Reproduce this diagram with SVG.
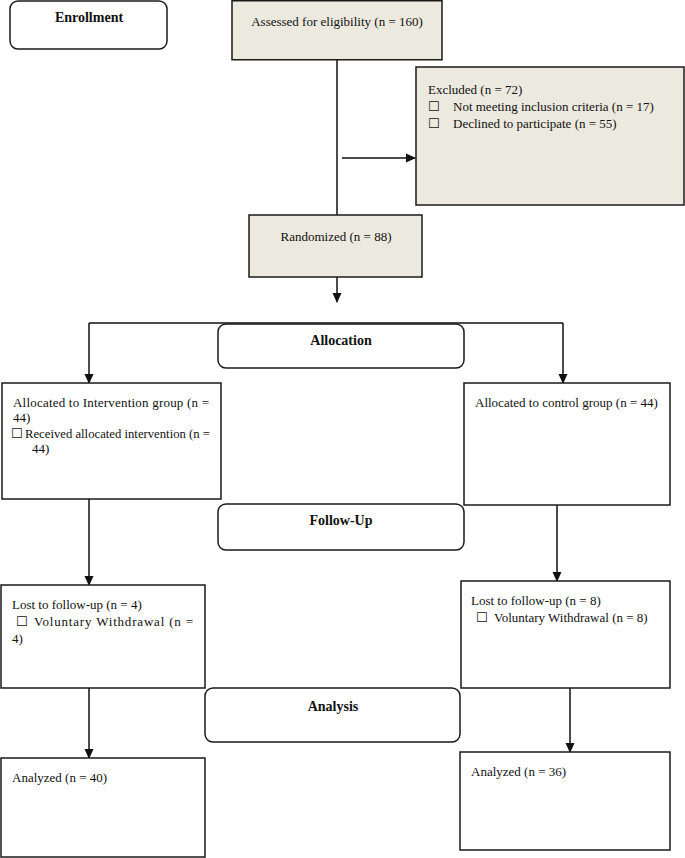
<svg xmlns="http://www.w3.org/2000/svg" width="685" height="858" viewBox="0 0 685 858">
<defs>
<marker id="ah" markerWidth="10" markerHeight="10" refX="9" refY="5" orient="auto" markerUnits="userSpaceOnUse">
<path d="M0,0.5 L10,5 L0,9.5 Z" fill="#111"/>
</marker>
<style>
.box{fill:#fff;stroke:#1a1a1a;stroke-width:1.5}
.shade{fill:#ece9df;stroke:#1a1a1a;stroke-width:1.5}
.rnd{fill:#fff;stroke:#1a1a1a;stroke-width:1.5}
.t{font-family:"Liberation Serif","Times New Roman",serif;font-size:13px;fill:#111}
.b{font-family:"Liberation Serif","Times New Roman",serif;font-size:14px;font-weight:bold;fill:#111}
.cb{font-family:"DejaVu Sans",sans-serif;font-size:13px}
.ln{stroke:#111;stroke-width:1.5;fill:none}
</style>
</defs>
<rect width="685" height="858" fill="#fff"/>
<g id="connectors">
<line class="ln" x1="337" y1="60" x2="337" y2="215"/>
<line class="ln" x1="342" y1="158" x2="415" y2="158" marker-end="url(#ah)"/>
<line class="ln" x1="337" y1="277" x2="337" y2="302" marker-end="url(#ah)"/>
<line class="ln" x1="89" y1="323" x2="563" y2="323"/>
<line class="ln" x1="89" y1="323" x2="89" y2="383" marker-end="url(#ah)"/>
<line class="ln" x1="563" y1="323" x2="563" y2="383" marker-end="url(#ah)"/>
<line class="ln" x1="89" y1="499" x2="89" y2="585" marker-end="url(#ah)"/>
<line class="ln" x1="557" y1="505" x2="557" y2="581" marker-end="url(#ah)"/>
<line class="ln" x1="89" y1="688" x2="89" y2="758" marker-end="url(#ah)"/>
<line class="ln" x1="570" y1="688" x2="570" y2="752" marker-end="url(#ah)"/>
</g>
<g id="enrollment">
<rect class="rnd" x="10" y="1" width="157" height="48" rx="8"/>
<text class="b" x="89" y="22" text-anchor="middle">Enrollment</text>
</g>
<g id="assessed">
<rect class="shade" x="232" y="0.75" width="210" height="59"/>
<text class="t" x="337" y="26" text-anchor="middle">Assessed for eligibility (n = 160)</text>
</g>
<g id="excluded">
<rect class="shade" x="416" y="67" width="268" height="138"/>
<text class="t" x="428" y="94">Excluded (n = 72)</text>
<text class="t" x="428" y="111"><tspan class="cb">☐</tspan><tspan x="453">Not meeting inclusion criteria (n = 17)</tspan></text>
<text class="t" x="428" y="128"><tspan class="cb">☐</tspan><tspan x="453">Declined to participate (n = 55)</tspan></text>
</g>
<g id="randomized">
<rect class="shade" x="249" y="215" width="173" height="62"/>
<text class="t" x="336" y="241" text-anchor="middle">Randomized (n = 88)</text>
</g>
<g id="allocation">
<rect class="rnd" x="218" y="324" width="246" height="44" rx="8"/>
<text class="b" x="341" y="345" text-anchor="middle">Allocation</text>
</g>
<g id="intervention">
<rect class="box" x="2" y="383" width="219" height="116"/>
<text class="t" x="13" y="407" textLength="196" lengthAdjust="spacing">Allocated to Intervention group (n =</text>
<text class="t" x="13" y="422">44)</text>
<text class="t" x="11" y="438"><tspan class="cb">☐</tspan><tspan x="25" textLength="185" lengthAdjust="spacingAndGlyphs">Received allocated intervention (n =</tspan></text>
<text class="t" x="32" y="453">44)</text>
</g>
<g id="control">
<rect class="box" x="464" y="383" width="206" height="122"/>
<text class="t" x="475" y="407">Allocated to control group (n = 44)</text>
</g>
<g id="followup">
<rect class="rnd" x="218" y="504" width="246" height="46" rx="8"/>
<text class="b" x="341" y="525" text-anchor="middle">Follow-Up</text>
</g>
<g id="lost-left">
<rect class="box" x="1" y="585" width="204" height="103"/>
<text class="t" x="12" y="609">Lost to follow-up (n = 4)</text>
<text class="t" x="16" y="626"><tspan class="cb">☐</tspan></text>
<text class="t" x="34" y="626" textLength="159" lengthAdjust="spacing">Voluntary Withdrawal (n =</text>
<text class="t" x="12" y="643">4)</text>
</g>
<g id="lost-right">
<rect class="box" x="461" y="581" width="209" height="107"/>
<text class="t" x="471" y="605">Lost to follow-up (n = 8)</text>
<text class="t" x="476" y="622"><tspan class="cb">☐</tspan><tspan x="494">Voluntary Withdrawal (n = 8)</tspan></text>
</g>
<g id="analysis">
<rect class="rnd" x="205" y="688" width="255" height="54" rx="8"/>
<text class="b" x="333" y="711" text-anchor="middle">Analysis</text>
</g>
<g id="analyzed-left">
<rect class="box" x="1" y="758" width="204" height="99"/>
<text class="t" x="12" y="782">Analyzed (n = 40)</text>
</g>
<g id="analyzed-right">
<rect class="box" x="460" y="752" width="210" height="98"/>
<text class="t" x="471" y="776">Analyzed (n = 36)</text>
</g>
</svg>
